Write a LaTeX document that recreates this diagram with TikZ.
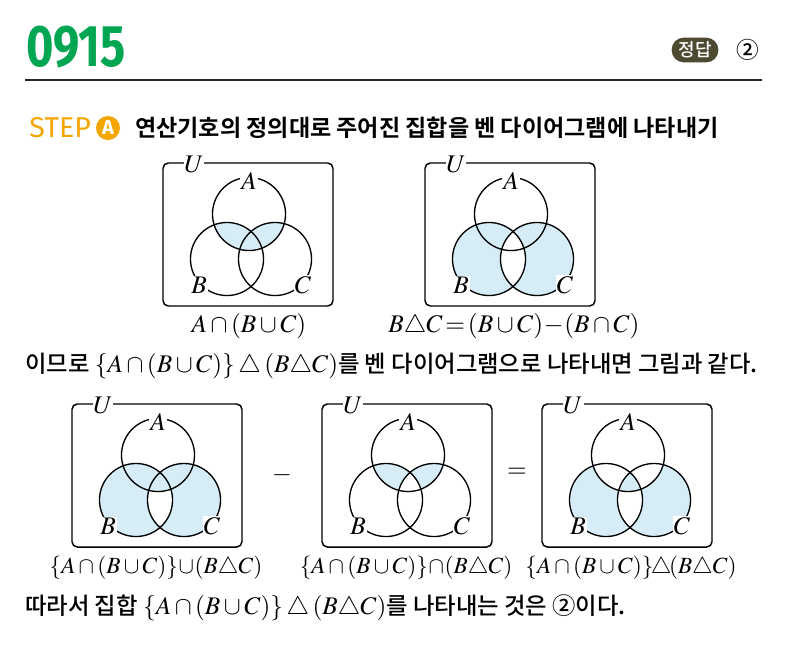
\documentclass[tikz,border=0pt]{standalone}
\usepackage{mathptmx}
\usepackage[no-math]{fontspec}
\setmainfont{Liberation Serif}
\newfontfamily\kr{Noto Sans CJK KR Medium}
\newfontfamily\krb{Noto Sans CJK KR Bold}
\newfontfamily\fira{Fira Sans}
\definecolor{vennblue}{RGB}{214,237,247}
\definecolor{numgreen}{RGB}{0,166,81}
\definecolor{steporange}{RGB}{246,166,0}
\definecolor{badgecol}{RGB}{78,74,50}
\newcommand\R{27.4pt}
\newcommand\cA{(86,51) circle[radius=\R]}
\newcommand\cB{(64,96) circle[radius=\R]}
\newcommand\cC{(112,96) circle[radius=\R]}
\newcommand\whole{(0,0) rectangle (170,143)}
\newcommand\mth[1]{{\fontsize{19}{22}\selectfont$#1$}}
% shadings
\newcommand\shAcapBC{\begin{scope}\clip \cA; \fill[venn] \cB \cC; \end{scope}}
\newcommand\shBxC{\fill[venn,even odd rule] \cB \cC;}
\newcommand\shUnion{\fill[venn] \cB \cC;
  \begin{scope}\clip \cB; \clip \cC; \fill[white] \whole; \clip \cA; \fill[venn] \whole; \end{scope}}
\newcommand\shInter{\begin{scope}\clip \cA; \fill[venn,even odd rule] \cB \cC; \end{scope}}
\newcommand\shSym{\fill[venn,even odd rule] \cB \cC;
  \begin{scope}\clip \cA; \fill[white] \whole; \clip \cB; \clip \cC; \fill[venn] \whole; \end{scope}}
% one diagram: #1 position, #2 shading, #3 name prefix
\newcommand\venndiag[3]{%
  \begin{scope}[shift={#1}]
    #2
    \draw[circ] \cA; \draw[circ] \cB; \draw[circ] \cC;
    \draw[ubox] \whole;
    \node[lab] (#3U) at (31,1) {$U$};
    \node[lab] (#3A) at (86,18) {$A$};
    \node[lab] (#3B) at (36,122) {$B$};
    \node[lab] (#3C) at (140,122) {$C$};
  \end{scope}}
\tikzset{
  venn/.style={fill=vennblue},
  circ/.style={draw=black,line width=1pt},
  ubox/.style={draw=black,line width=1.1pt,rounded corners=4pt},
  lab/.style={fill=white,inner sep=0.6pt,font=\fontsize{19}{22}\selectfont},
  mathlab/.style={inner sep=0pt,font=\fontsize{19}{22}\selectfont},
  smathlab/.style={inner sep=0pt,font=\fontsize{17.4}{20}\selectfont},
  krtext/.style={anchor=west,inner sep=0pt,font=\kr\fontsize{17.5}{20}\selectfont},
}
\begin{document}
\begin{tikzpicture}[x=0.75pt,y=-0.75pt]
\fill[white] (0,0) rectangle (787,658);
\useasboundingbox (0,0) rectangle (787,658);
% header
\node[anchor=west,inner sep=0pt,text=numgreen,font=\fira\bfseries\fontsize{44}{46}\selectfont] (num) at (26,47) {\scalebox{0.8}[1]{0915}};
\node[fill=badgecol,text=white,rounded corners=9pt,minimum width=35pt,minimum height=18.5pt,inner sep=0pt,font=\kr\fontsize{13.5}{15}\selectfont] (badge) at (695,50) {정답};
\node[inner sep=0pt,font=\kr\fontsize{17}{18}\selectfont] (ans) at (748,50) {②};
\coordinate (l1) at (25,80);
\coordinate (l2) at (762,80);
\draw[line width=0.8pt,black!85] (l1) -- (l2);
% step line
\node[anchor=west,inner sep=0pt,text=steporange,font=\fira\fontsize{21.5}{22}\selectfont] (step) at (29,128) {STEP};
\node[circle,fill=steporange,text=white,minimum size=18pt,inner sep=0pt,font=\fira\bfseries\fontsize{15}{16}\selectfont] (stepA) at (108,128) {A};
\node[anchor=west,inner sep=0pt,font=\krb\fontsize{17.3}{20}\selectfont] (steptext) at (135,128) {연산기호의 정의대로 주어진 집합을 벤 다이어그램에 나타내기};
% top diagrams
\venndiag{(163,163)}{\shAcapBC}{t1}
\venndiag{(425,163)}{\shBxC}{t2}
\node[mathlab] (t1lab) at (249,326) {$A\cap(B\cup C)$};
\node[mathlab] (t2lab) at (514,326) {$B\triangle C\!=\!(B\cup C)\!-\!(B\cap C)$};
% middle line
\node[krtext] (mid) at (25,366) {이므로 \mth{\{A\cap(B\cup C)\}\mathbin{\triangle}(B\triangle C)}를 벤 다이어그램으로 나타내면 그림과 같다.};
% bottom diagrams
\venndiag{(72,404)}{\shUnion}{b1}
\venndiag{(322,404)}{\shInter}{b2}
\venndiag{(542,404)}{\shSym}{b3}
\node[mathlab] (minus) at (282,475) {$-$};
\node[mathlab] (eq) at (517,473) {$=$};
\node[smathlab] (b1lab) at (156,568) {$\{A\cap(B\cup C)\}\!\cup\!(B\triangle C)$};
\node[smathlab] (b2lab) at (406,568) {$\{A\cap(B\cup C)\}\!\cap\!(B\triangle C)$};
\node[smathlab] (b3lab) at (631,568) {$\{A\cap(B\cup C)\}\!\triangle\!(B\triangle C)$};
% final line
\node[krtext] (fin) at (25,608) {따라서 집합 \mth{\{A\cap(B\cup C)\}\mathbin{\triangle}(B\triangle C)}를 나타내는 것은 ②이다.};
\end{tikzpicture}
\end{document}
